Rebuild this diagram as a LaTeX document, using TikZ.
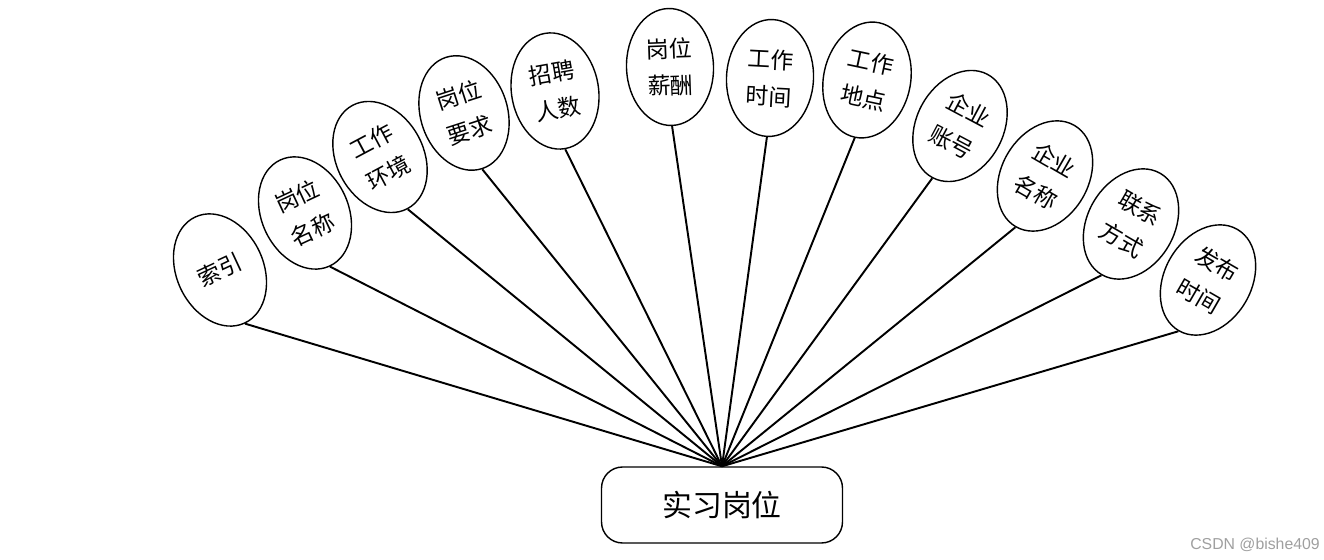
\documentclass[tikz,border=0pt]{standalone}
\usepackage{fontspec}
\newfontfamily\cjk{Noto Sans CJK SC}
\newfontfamily\wmfont{Liberation Sans}
\usetikzlibrary{shapes.geometric}

\begin{document}
\begin{tikzpicture}[
        x=0.02cm, y=0.02cm,
        attr/.style={ellipse, draw, line width=0.8pt, fill=white, inner sep=0pt,
                     minimum width=1.74cm, minimum height=2.34cm, align=center,
                     font=\cjk\fontsize{13}{21}\selectfont},
        entity/.style={rectangle, draw, line width=0.8pt, rounded corners=0.42cm,
                       minimum width=4.82cm, minimum height=1.52cm,
                       font=\cjk\fontsize{17}{20}\selectfont},
        link/.style={line width=1.1pt}
    ]
        \useasboundingbox (0,0) rectangle (1324,560);

        \node[entity] (post) at (722,55) {实习岗位};

        \node[attr, rotate=25]  (idx)   at (220,290)  {索引};
        \node[attr, rotate=25]  (pname) at (305,347)  {岗位\\名称};
        \node[attr, rotate=28]  (env)   at (380,403)  {工作\\环境};
        \node[attr, rotate=18]  (req)   at (464,447)  {岗位\\要求};
        \node[attr, rotate=10]  (num)   at (555,469)  {招聘\\人数};
        \node[attr, rotate=2]   (pay)   at (670,493)  {岗位\\薪酬};
        \node[attr, rotate=-3]  (wtime) at (770,482)  {工作\\时间};
        \node[attr, rotate=-12] (place) at (867,480)  {工作\\地点};
        \node[attr, rotate=-28] (acct)  at (960,434)  {企业\\账号};
        \node[attr, rotate=-30] (cname) at (1045,384) {企业\\名称};
        \node[attr, rotate=-30] (phone) at (1131,336) {联系\\方式};
        \node[attr, rotate=-30] (ptime) at (1208,280) {发布\\时间};

        % every attribute hangs from the top of the entity
        \draw[link] (idx.south)   -- (post.north);
        \draw[link] (pname.south) -- (post.north);
        \draw[link] (env.south)   -- (post.north);
        \draw[link] (req.south)   -- (post.north);
        \draw[link] (num.south)   -- (post.north);
        \draw[link] (pay.south)   -- (post.north);
        \draw[link] (wtime.south) -- (post.north);
        \draw[link] (place.south) -- (post.north);
        \draw[link] (acct.south)  -- (post.north);
        \draw[link] (cname.south) -- (post.north);
        \draw[link] (phone.south) -- (post.north);
        \draw[link] (ptime.south) -- (post.north);

        \node[text=gray!75, font=\wmfont\fontsize{9}{10}\selectfont] (mark) at (1255,15) {CSDN @bishe409};
    \end{tikzpicture}
\end{document}
